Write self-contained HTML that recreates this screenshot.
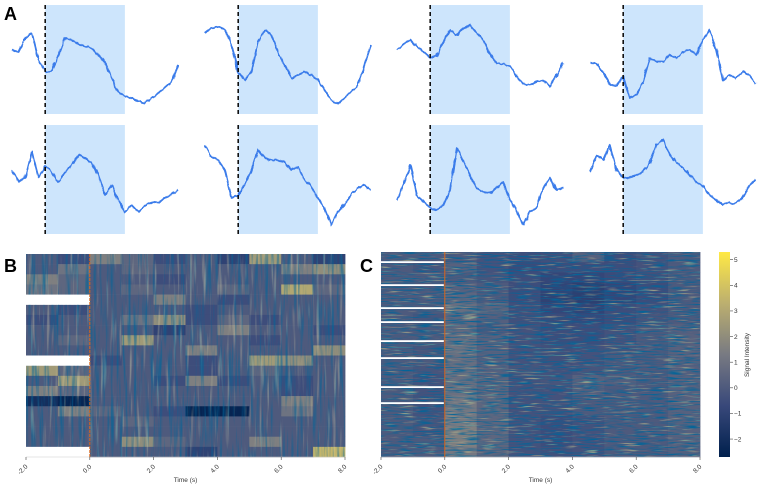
<!DOCTYPE html>
<html><head><meta charset="utf-8">
<style>
html,body{margin:0;padding:0;background:#fff;}
body{width:758px;height:486px;overflow:hidden;font-family:"Liberation Sans",sans-serif;}
svg text{font-family:"Liberation Sans",sans-serif;}
</style></head>
<body>
<svg id="fig" width="758" height="486" viewBox="0 0 758 486" xmlns="http://www.w3.org/2000/svg">
<defs>
<linearGradient id="cbGrad" x1="0" y1="1" x2="0" y2="0">
<stop offset="0" stop-color="#00204d"/><stop offset="0.25" stop-color="#38487a"/>
<stop offset="0.5" stop-color="#787a82"/><stop offset="0.75" stop-color="#bcaf6f"/>
<stop offset="1" stop-color="#ffe945"/></linearGradient>
<filter id="jitter" x="-5%" y="-10%" width="110%" height="120%">
<feTurbulence type="fractalNoise" baseFrequency="0.35 0.12" numOctaves="1" seed="3" result="n"/>
<feDisplacementMap in="SourceGraphic" in2="n" scale="3.5" xChannelSelector="R" yChannelSelector="G"/>
</filter>
<filter id="darkNoiseC" x="0" y="0" width="100%" height="100%">
<feTurbulence type="fractalNoise" baseFrequency="0.06 0.7" numOctaves="2" seed="5"/>
<feColorMatrix type="matrix" values="0 0 0 0 0  0 0 0 0 0.13  0 0 0 0 0.32  3 0 0 0 -1.4"/>
</filter>
<filter id="lightNoiseC" x="0" y="0" width="100%" height="100%">
<feTurbulence type="fractalNoise" baseFrequency="0.05 0.6" numOctaves="2" seed="11"/>
<feColorMatrix type="matrix" values="0 0 0 0 0.85  0 0 0 0 0.8  0 0 0 0 0.3  2.2 0 0 0 -1.35"/>
</filter>
<filter id="darkNoiseB" x="0" y="0" width="100%" height="100%">
<feTurbulence type="fractalNoise" baseFrequency="0.35 0.02" numOctaves="2" seed="7"/>
<feColorMatrix type="matrix" values="0 0 0 0 0  0 0 0 0 0.13  0 0 0 0 0.32  2 0 0 0 -0.95"/>
</filter>
<filter id="lightNoiseB" x="0" y="0" width="100%" height="100%">
<feTurbulence type="fractalNoise" baseFrequency="0.3 0.02" numOctaves="2" seed="13"/>
<feColorMatrix type="matrix" values="0 0 0 0 0.72  0 0 0 0 0.68  0 0 0 0 0.42  1.4 0 0 0 -0.8"/>
</filter>
</defs>
<text x="4" y="20" font-size="18" font-weight="bold">A</text>
<text x="4" y="272" font-size="18" font-weight="bold">B</text>
<text x="360" y="272" font-size="18" font-weight="bold">C</text>
<g id="panelA"></g>
<g id="panelB"></g>
<g id="panelC"></g>
</svg>
<script>
// ---------- Panel A data ----------
const traceTimes = [-2,-1.6,-1.2,-0.8,-0.4,0,0.4,0.8,1.2,1.6,2,2.4,2.8,3.2,3.6,4,4.4,4.8,5.2,5.6,6,6.4,6.8,7.2,7.6,8];
const shadeStart = 0;
const shadeEnd = 4.8;
const trace1 = [6.5,6.3,7.7,8.2,5.5,4.3,4.5,6.0,7.7,7.5,7.1,6.9,6.7,6.0,5.3,3.7,2.3,1.9,1.7,1.4,1.2,1.7,2.2,2.7,3.3,5.0];
const trace2 = [8.2,8.7,8.8,8.5,7.0,4.3,3.5,4.3,7.3,8.5,8.0,6.3,5.0,3.7,4.0,4.3,4.0,3.5,2.5,1.5,1.1,1.7,2.3,3.0,5.0,7.0];
const trace3 = [6.5,7.1,7.5,6.9,6.3,5.7,5.9,7.3,8.5,8.0,8.7,9.0,8.2,7.5,6.0,5.2,5.1,4.9,3.9,3.1,3.0,3.3,3.5,2.9,3.9,5.2];
const trace4 = [5.3,5.1,4.3,3.0,3.0,3.8,1.7,2.0,3.3,5.7,5.3,5.3,6.0,5.7,6.3,6.5,6.0,7.5,8.5,6.5,3.5,4.0,3.7,4.3,4.0,3.1];
const trace5 = [6.5,5.3,5.7,8.3,5.7,6.9,6.3,5.3,6.3,7.0,8.0,7.7,7.2,6.0,4.0,5.0,3.5,2.3,3.0,2.3,2.9,3.3,3.2,3.7,4.1,4.5];
const trace6 = [9.0,7.8,7.5,6.5,3.7,4.0,5.0,6.5,8.5,7.7,7.5,7.5,7.3,6.5,6.8,5.5,4.9,3.7,2.7,1.0,2.3,3.0,4.0,4.7,5.0,4.5];
const trace7 = [3.5,5.0,7.0,4.0,3.3,2.7,2.5,3.0,4.5,8.7,7.3,6.0,4.7,4.3,4.2,4.7,5.3,3.5,2.5,1.0,2.3,2.7,4.7,5.7,4.5,4.7];
const trace8 = [6.3,8.0,7.5,9.0,6.5,5.7,5.8,6.0,6.3,7.2,9.0,9.5,8.0,7.3,6.7,6.0,5.3,4.9,4.0,3.5,3.0,3.2,3.2,3.7,5.0,5.5];
const traces = [trace1,trace2,trace3,trace4,trace5,trace6,trace7,trace8];

// ---------- Panel B data (rows x 1-second bins, -2..8 s) ----------
const bTickLabels = ["-2.0","0.0","2.0","4.0","6.0","8.0"];
const bTicks = [-2,0,2,4,6,8];
const bRows = [
[0,-0.5,1.5,0.5,-0.5,0,-1,2.5,0,-1],
[0,1,0,0.5,0,0,0,0,1.5,2],
[1.5,0.5,0,0,-0.5,0,0,0,0,0],
[1,0.5,0,0.5,0,0,0.5,0,3,0.5],
[null,null,0,0,1.5,0,-0.5,0,0,0],
[0,-0.5,0,0,0,-0.5,0,0,0,0],
[-0.5,0,0,1,2,-0.5,0.5,-0.5,0,0],
[0,0,0,0,-1,0,1.5,0,0,-0.5],
[0,0.5,0,2.5,0,0,0,-0.5,0,0],
[0,0,0,0,0,1.5,0,0,0,2],
[null,null,-0.5,0,0,-0.5,0,2.5,2,0],
[2.5,0.5,0,0,0,-0.5,0,0.5,0,0],
[0,2.5,0,0,-0.5,1.5,-0.5,0,-0.5,0],
[1.5,0.5,0,0,0,0,0,0,-0.5,0],
[-2,-2.5,0,0,0,0,0,0,1.5,0],
[0,1.5,0.5,0,-0.5,-2.5,-2.5,0,1,0],
[0,0,0,0.5,0,0,0,0,0,0],
[0,0,0,0,0,0,0,0,0,0],
[0,0,0,2,0.5,0,0,1.5,0,0],
[null,null,0,0,0,-1,0,0,0,3.5]
];

// ---------- Panel C data ----------
const cRows = [
[0,0,0,-0.3,-0.5,-0.4,0.3,-0.5,-0.3,0],
[0,-0.2,0.3,-0.3,-0.6,-0.5,-0.5,-0.5,-0.3,0],
[0,0,0,-0.2,-0.5,-0.8,-0.8,-0.6,-0.4,0],
[0,0,0.3,0,-0.5,-0.9,-1.1,-0.8,-0.5,0],
[0,0,0.5,0,-0.5,-1,-1.1,-0.8,-0.5,0],
[0,0,0.8,0.4,-0.4,-0.8,-0.9,-0.5,-0.3,0],
[0,-0.2,0.5,0.2,-0.4,-0.6,-0.7,-0.5,-0.2,0],
[0,0,0.6,0,-0.3,-0.5,-0.5,-0.3,0,0.2],
[0,0,0.8,0.3,-0.3,-0.5,-0.5,-0.3,0,0.3],
[0,-0.2,1,0.3,-0.3,-0.4,-0.3,-0.2,0,0.3],
[0,0,0.8,0.2,-0.3,-0.4,-0.3,0,0,0.3],
[0,-0.2,0.8,0.3,-0.2,-0.3,-0.2,0,0,0.2],
[0,-0.3,0.8,0.4,-0.3,-0.2,0.3,0.2,0,0.3],
[0,-0.3,0.9,0.4,-0.3,-0.3,0.2,0,0,0.3],
[0,-0.3,1.2,0.5,-0.3,-0.3,0,0,0,0.3],
[0,-0.3,1.2,0.5,-0.3,-0.3,0,0,0,0.3],
[0,-0.2,1.3,0.5,-0.3,-0.5,-0.3,0,0,0.3],
[0,-0.2,1.5,0.5,-0.3,-0.5,-0.3,0,0,0.3],
[0,0,1.5,0.5,-0.3,-0.5,-0.3,0,0,0.3],
[0,0,1.2,0.4,-0.3,-0.4,-0.3,0,0,0.2]
];
const cGapRows = [262,285,308,322,341,358,387,403];
const cbTicks = [5,4,3,2,1,0,-1,-2];
const cbTickLabels = ["5","4","3","2","1","0","\u22121","\u22122"];

// ---------- helpers ----------
const NS="http://www.w3.org/2000/svg";
function mk(tag,attrs,parent){const e=document.createElementNS(NS,tag);for(const k in attrs)e.setAttribute(k,attrs[k]);parent.appendChild(e);return e;}
const stops=[[0,[0,32,77]],[0.25,[56,72,122]],[0.5,[120,122,130]],[0.75,[188,175,111]],[1,[255,233,69]]];
const vmin=-2.7, vmax=5.3;
function cmap(v){let f=(v-vmin)/(vmax-vmin);f=Math.max(0,Math.min(1,f));
 for(let i=1;i<stops.length;i++){if(f<=stops[i][0]){const a=stops[i-1],b=stops[i];const t=(f-a[0])/(b[0]-a[0]);
 const c=a[1].map((x,j)=>Math.round(x+(b[1][j]-x)*t));return `rgb(${c[0]},${c[1]},${c[2]})`;}}return "rgb(255,233,69)";}

// ---------- Panel A ----------
const gA=document.getElementById('panelA');
const colX=[12,205,397,590], plotW=166;
const rowBottom=[115,235], rowTop=[5,125], rowBot=[114,234];
function xA(col,t){return colX[col]+(t+2)/10*plotW;}
function yA(row,v){return rowBottom[row]-v*10;}
traces.forEach((tr,i)=>{
 const col=i%4,row=Math.floor(i/4);
 const g=mk('g',{},gA);
 
 
 const sh=mk('rect',{x:xA(col,shadeStart),y:rowTop[row],width:xA(col,shadeEnd)-xA(col,shadeStart),height:rowBot[row]-rowTop[row],fill:'#cde5fc'},g);
 
 
 const pts=tr.map((v,k)=>xA(col,traceTimes[k]).toFixed(1)+','+yA(row,v).toFixed(1)).join(' ');
 const pl=mk('polyline',{points:pts,fill:'none',stroke:'#3a7bea','stroke-width':1.8,'stroke-linejoin':'round',filter:'url(#jitter)'},g);
 
 
 const dl=mk('line',{x1:xA(col,0),x2:xA(col,0),y1:rowTop[row],y2:rowBot[row]+1,stroke:'#111','stroke-width':1.6,'stroke-dasharray':'4 3'},g);
 
 
});

// ---------- Heatmap drawing ----------
function drawHeat(parent,rows,x0,x1,y0,y1,darkF,lightF,name){
 const nR=rows.length,nC=rows[0].length;const cw=(x1-x0)/nC,rh=(y1-y0)/nR;
 rows.forEach((r,i)=>r.forEach((v,j)=>{
  if(v===null)return;
  const c=mk('rect',{x:(x0+j*cw).toFixed(2),y:(y0+i*rh).toFixed(2),width:(cw+0.4).toFixed(2),height:(rh+0.3).toFixed(2),fill:cmap(v)},parent);
  
  
 }));
 const ov1=mk('rect',{x:x0,y:y0,width:x1-x0,height:y1-y0,fill:'#000',filter:'url(#'+darkF+')'},parent);
 
 
 const ov2=mk('rect',{x:x0,y:y0,width:x1-x0,height:y1-y0,fill:'#000',filter:'url(#'+lightF+')'},parent);
 
 
 rows.forEach((r,i)=>r.forEach((v,j)=>{if(v===null){mk('rect',{x:x0+j*cw-0.5,y:y0+i*rh,width:cw+0.5,height:rh,fill:'#fff'},parent);}}));
}
function drawAxis(parent,x0,x1,yb,name,isC){
 const sx=t=>x0+(t+2)/10*(x1-x0);
 mk('line',{x1:x0,x2:x1,y1:yb,y2:yb,stroke:'#ccc','stroke-width':0.6},parent);
 bTicks.forEach((t,k)=>{
  const tk=mk('line',{x1:sx(t),x2:sx(t),y1:yb,y2:yb+3,stroke:'#444','stroke-width':0.6},parent);
  
  
  const tx=mk('text',{x:sx(t)+2,y:yb+10,'font-size':6.5,fill:'#333','text-anchor':'end',transform:`rotate(-45 ${sx(t)+2} ${yb+10})`},parent);
  tx.textContent=bTickLabels[k];
  
  
 });
 const lab=mk('text',{x:(x0+x1)/2,y:yb+25,'font-size':6.5,fill:'#333','text-anchor':'middle'},parent);
 lab.textContent='Time (s)';
 
 
 const zl=mk('line',{x1:sx(0),x2:sx(0),y1:isC?252:254,y2:yb,stroke:'#d9661a','stroke-width':1,'stroke-dasharray':isC?'none':'3 1'},parent);
 
 
}
const gB=document.getElementById('panelB');
const gC=document.getElementById('panelC');
drawHeat(gB,bRows,26,345,254,457,'darkNoiseB','lightNoiseB','panel-b');
drawAxis(gB,26,345,457,'panel-b',false);

drawHeat(gC,cRows,381,700,252,457,'darkNoiseC','lightNoiseC','panel-c');
const cx0=381,cZero=381+2/10*319;
cGapRows.forEach(y=>{
 const w=mk('rect',{x:cx0,y:y-0.8,width:cZero-cx0-1,height:1.8,fill:'#fff'},gC);
 
 
});
drawAxis(gC,381,700,457,'panel-c',true);

// colorbar
const cb=mk('rect',{x:719,y:252,width:11,height:205,fill:'url(#cbGrad)'},gC);


const cbY=v=>457-(v-vmin)/(vmax-vmin)*205;
cbTicks.forEach((v,k)=>{
 mk('line',{x1:730,x2:733,y1:cbY(v),y2:cbY(v),stroke:'#444','stroke-width':0.6},gC);
 const t=mk('text',{x:734,y:cbY(v)+2.3,'font-size':6.5,fill:'#333'},gC);
 t.textContent=cbTickLabels[k];
 
 
});
const cbl=mk('text',{x:749,y:355,'font-size':6.5,fill:'#333','text-anchor':'middle',transform:'rotate(-90 749 355)'},gC);
cbl.textContent='Signal Intensity';


</script>
</body></html>
